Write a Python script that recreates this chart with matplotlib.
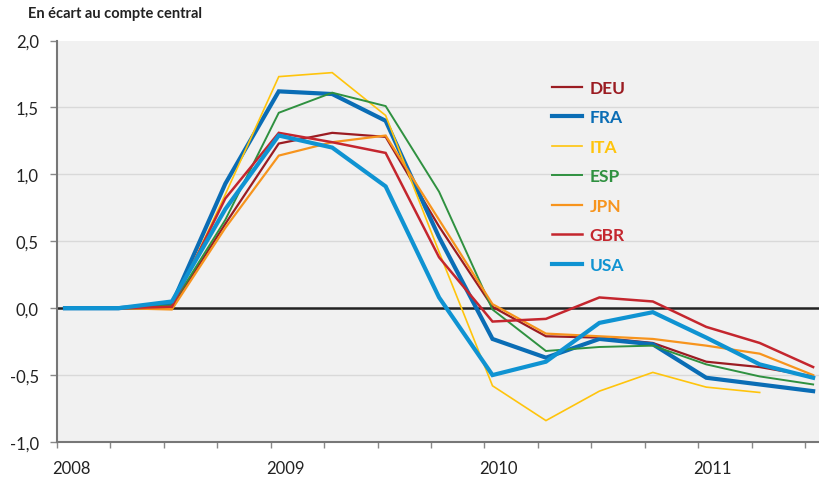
import matplotlib.pyplot as plt
from matplotlib.ticker import FixedLocator, FuncFormatter
import matplotlib.transforms as mtransforms

plt.rcParams['font.family'] = ['Lato', 'DejaVu Sans']

# quarterly data, 2008Q1 .. 2011Q3 (deviation from central scenario)
quarters = list(range(15))
years = [2008, 2009, 2010, 2011]

deu = [0.0, 0.0, 0.01, 0.63, 1.23, 1.31, 1.28, 0.61, 0.01, -0.21, -0.22, -0.26, -0.40, -0.44, -0.51]
fra = [0.0, 0.0, 0.03, 0.93, 1.62, 1.60, 1.40, 0.53, -0.23, -0.37, -0.23, -0.27, -0.52, -0.57, -0.62]
ita = [0.0, 0.0, 0.0, 0.85, 1.73, 1.76, 1.44, 0.42, -0.58, -0.84, -0.62, -0.48, -0.59, -0.63]
esp = [0.0, 0.0, 0.02, 0.66, 1.46, 1.61, 1.51, 0.87, -0.01, -0.32, -0.29, -0.28, -0.42, -0.51, -0.57]
jpn = [0.0, 0.0, -0.01, 0.60, 1.14, 1.24, 1.29, 0.66, 0.03, -0.19, -0.21, -0.23, -0.28, -0.34, -0.50]
gbr = [0.0, 0.0, 0.01, 0.82, 1.31, 1.24, 1.16, 0.38, -0.10, -0.08, 0.08, 0.05, -0.14, -0.26, -0.44]
usa = [0.0, 0.0, 0.05, 0.74, 1.29, 1.20, 0.91, 0.08, -0.50, -0.40, -0.11, -0.03, -0.22, -0.42, -0.52]

series = [
    ('DEU', deu, '#9b1c22', 1.6),
    ('FRA', fra, '#0a6db5', 3.0),
    ('ITA', ita, '#ffc40c', 1.2),
    ('ESP', esp, '#2f9140', 1.4),
    ('JPN', jpn, '#f7941d', 1.6),
    ('GBR', gbr, '#c4262e', 1.8),
    ('USA', usa, '#0f93d2', 3.0),
]

fig = plt.figure(figsize=(8.19, 4.81), dpi=100)
ax = fig.add_axes([57 / 819, 38 / 481, 1 - 57 / 819, 401.5 / 481])
ax.set_facecolor('#f1f1f1')

for y in [-0.5, 0.5, 1.0, 1.5]:
    ax.axhline(y, color='#d9d9d9', lw=1.0, zorder=1)
ax.axhline(0, color='#222222', lw=1.8, zorder=2)

for name, vals, col, lw in series:
    ax.plot(quarters[:len(vals)], vals, color=col, lw=lw, label=name,
            solid_joinstyle='miter', zorder=3)

off = 0.15
ax.set_xlim(-off, 14.11)
ax.set_ylim(-1.0, 2.0)

ax.set_yticks([-1.0, -0.5, 0.0, 0.5, 1.0, 1.5, 2.0])
ax.yaxis.set_major_formatter(FuncFormatter(lambda v, p: f'{v:.1f}'.replace('.', ',')))
ax.tick_params(axis='y', length=5, width=1, color='#888888', labelsize=12,
               labelcolor='#222222', pad=8)

ax.xaxis.set_major_locator(FixedLocator([k - off for k in range(16)]))
ax.xaxis.set_major_formatter(FuncFormatter(lambda v, p: ''))
ax.tick_params(axis='x', length=4, width=1, color='#888888')

trans = mtransforms.blended_transform_factory(ax.transData, ax.transAxes)
for i, yr in enumerate(years):
    ax.text(4 * i - off + 0.27, -0.045, str(yr), transform=trans, ha='center',
            va='top', fontsize=12, color='#222222')

for s in ['top', 'right']:
    ax.spines[s].set_visible(False)
for s in ['left', 'bottom']:
    ax.spines[s].set_color('#777777')
    ax.spines[s].set_linewidth(1.5)

fig.text(28 / 819, 1 - 14 / 481, 'En écart au compte central', fontsize=10.5,
         fontweight='bold', va='center', ha='left', color='#222222')

leg = ax.legend(loc='upper left', bbox_to_anchor=(543 / 819, 1 - 72 / 481),
                bbox_transform=fig.transFigure, frameon=False, fontsize=12.5,
                handlelength=1.75, handletextpad=0.45, labelspacing=0.78,
                labelcolor='linecolor', borderpad=0)
for t in leg.get_texts():
    t.set_fontweight('bold')

fig.savefig('out.png', dpi=100)
